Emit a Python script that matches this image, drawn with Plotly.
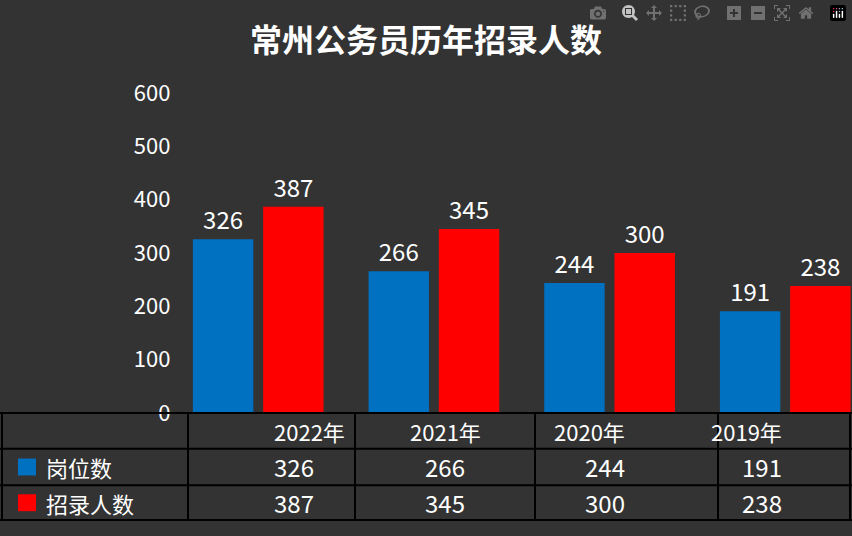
import plotly.graph_objects as go

years = ["2022年", "2021年", "2020年", "2019年"]
posts = [326, 266, 244, 191]
hires = [387, 345, 300, 238]
series_names = ["岗位数", "招录人数"]
colors = ["#0070C0", "#FF0000"]

W, H = 852, 536
xs = list(range(len(years)))
fig = go.Figure()
for name, vals, c in zip(series_names, [posts, hires], colors):
    fig.add_bar(x=xs, y=vals, name=name, marker_color=c, marker_line_width=0,
                text=[str(v) for v in vals], textposition="outside",
                textfont=dict(color="white", size=24), cliponaxis=False)

fig.update_layout(
    width=W, height=H, margin=dict(l=0, r=0, t=0, b=0),
    paper_bgcolor="#333333", plot_bgcolor="#333333",
    font=dict(family="Noto Sans CJK SC, Arial", color="white"),
    barmode="group", bargap=0.2, bargroupgap=0.14, showlegend=False,
    title=dict(text="<b>常州公务员历年招录人数</b>", x=0.5, xanchor="center", y=0.945,
               font=dict(size=32, color="white")),
    xaxis=dict(domain=[0.2, 1], range=[-0.5, 3.38], visible=False),
    yaxis=dict(domain=[116 / H, 456 / H], range=[0, 600], dtick=100, showgrid=False,
               zeroline=False, tickfont=dict(size=22, color="white")),
)
fig.update_yaxes(anchor="free", position=0.2, ticks="", showline=False)

def px(x): return x / W
def py(y): return 1 - y / H
hlines = [420, 458, 497, 534]
vlines = [2, 188, 355, 535, 718, 850]
for y in hlines:
    fig.add_shape(type="line", xref="paper", yref="paper", x0=0, x1=1, y0=py(y), y1=py(y),
                  line=dict(color="black", width=2))
for x in vlines:
    fig.add_shape(type="line", xref="paper", yref="paper", x0=px(x), x1=px(x), y0=py(420), y1=py(534),
                  line=dict(color="black", width=2))
centers = [(vlines[i] + vlines[i + 1]) / 2 for i in range(1, 5)]
rowsy = [(hlines[i] + hlines[i + 1]) / 2 for i in range(3)]
for cx, yr in zip(centers, years):
    fig.add_annotation(x=px(cx), y=py(rowsy[0]), xref="paper", yref="paper", text=yr,
                       yanchor="middle", showarrow=False, font=dict(size=22, color="white"))
for r, (name, vals, c) in enumerate(zip(series_names, [posts, hires], colors)):
    yy = rowsy[r + 1]
    fig.add_shape(type="rect", xref="paper", yref="paper", x0=px(18), x1=px(36),
                  y0=py(yy + 9), y1=py(yy - 9), fillcolor=c, line_width=0)
    fig.add_annotation(x=px(44), y=py(yy), xref="paper", yref="paper", text=name, xanchor="left",
                       yanchor="middle", showarrow=False, font=dict(size=22, color="white"))
    for cx, v in zip(centers, vals):
        fig.add_annotation(x=px(cx), y=py(yy), xref="paper", yref="paper", text=str(v),
                           yanchor="middle", showarrow=False, font=dict(size=24, color="white"))

fig.write_html("out.html")
with open("out.html", encoding="utf-8") as f:
    html = f.read()
html = html.replace("<head>", "<head><style>html,body{margin:0;padding:0;overflow:hidden;background:#333333}</style>", 1)
with open("out.html", "w", encoding="utf-8") as f:
    f.write(html)
